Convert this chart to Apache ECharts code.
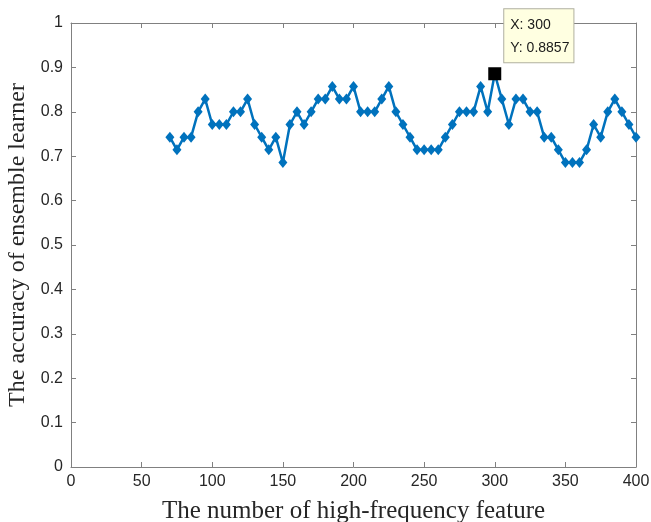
<!DOCTYPE html>
<html>
<head>
<meta charset="utf-8">
<script src="https://cdn.jsdelivr.net/npm/echarts@6/dist/echarts.min.js"></script>
<style>
  html,body{margin:0;padding:0;background:#fff;}
  #chart{width:651px;height:522px;}
</style>
</head>
<body>
<div id="chart"></div>
<script>
// number of high-frequency features
const featureCounts = [70,75,80,85,90,95,100,105,110,115,120,125,130,135,140,145,150,155,160,165,
  170,175,180,185,190,195,200,205,210,215,220,225,230,235,240,245,250,255,260,265,
  270,275,280,285,290,295,300,305,310,315,320,325,330,335,340,345,350,355,360,365,
  370,375,380,385,390,395,400];
// accuracy of the ensemble learner
const accuracy = [0.7429,0.7143,0.7429,0.7429,0.8,0.8286,0.7714,0.7714,0.7714,0.8,
  0.8,0.8286,0.7714,0.7429,0.7143,0.7429,0.6857,0.7714,0.8,0.7714,
  0.8,0.8286,0.8286,0.8571,0.8286,0.8286,0.8571,0.8,0.8,0.8,
  0.8286,0.8571,0.8,0.7714,0.7429,0.7143,0.7143,0.7143,0.7143,0.7429,
  0.7714,0.8,0.8,0.8,0.8571,0.8,0.8857,0.8286,0.7714,0.8286,
  0.8286,0.8,0.8,0.7429,0.7429,0.7143,0.6857,0.6857,0.6857,0.7143,
  0.7714,0.7429,0.8,0.8286,0.8,0.7714,0.7429];
// data tip
const tipPoint = [300, 0.8857];

const axisGray = '#808080';
const labelFont = {color:'#262626', fontFamily:'Liberation Sans, Arial', fontSize:16};
const titleFont = {color:'#262626', fontFamily:'Liberation Serif, Times New Roman', fontSize:25};

function boxAxis(extra){
  return Object.assign({
    type:'value',
    axisLine:{show:true, onZero:false, lineStyle:{color:axisGray, width:1}},
    axisTick:{show:true, inside:true, length:5, lineStyle:{color:axisGray}},
    splitLine:{show:false}
  }, extra);
}

const chart = echarts.init(document.getElementById('chart'));
chart.setOption({
  animation:false,
  grid:{left:71, right:15, top:23, bottom:55, outerBoundsMode:'none', containLabel:false},
  xAxis:[
    boxAxis({
      min:0, max:400, interval:50, position:'bottom',
      name:'The number of high-frequency feature', nameLocation:'middle', nameGap:32,
      nameTextStyle:titleFont,
      axisLabel:Object.assign({margin:7}, labelFont)
    }),
    boxAxis({min:0, max:400, interval:50, position:'top', axisLabel:{show:false}})
  ],
  yAxis:[
    boxAxis({
      min:0, max:1, interval:0.1, position:'left',
      name:'The accuracy of ensemble learner', nameLocation:'middle', nameGap:35,
      nameTextStyle:Object.assign({}, titleFont, {fontSize:24}),
      axisLabel:Object.assign({margin:8, formatter:v => String(+v.toFixed(1))}, labelFont)
    }),
    boxAxis({min:0, max:1, interval:0.1, position:'right', axisLabel:{show:false}})
  ],
  series:[
    {
      type:'line',
      data:featureCounts.map((x,i)=>[x, accuracy[i]]),
      symbol:'diamond', symbolSize:[9,11],
      lineStyle:{color:'#0072BD', width:2.5},
      itemStyle:{color:'#0072BD'},
      z:2
    },
    {
      type:'scatter',
      data:[tipPoint],
      symbol:'rect', symbolSize:13,
      itemStyle:{color:'#000', opacity:1},
      z:10,
      label:{
        show:true,
        position:[16,-58],
        formatter:p => 'X: ' + p.value[0] + '\nY: ' + p.value[1],
        color:'#1a1a1a', fontFamily:'Liberation Sans, Arial', fontSize:14, lineHeight:23,
        backgroundColor:'#ffffe1', borderColor:'#b0b0a0', borderWidth:1,
        padding:[4,4,3,6]
      }
    }
  ]
});
</script>
</body>
</html>
